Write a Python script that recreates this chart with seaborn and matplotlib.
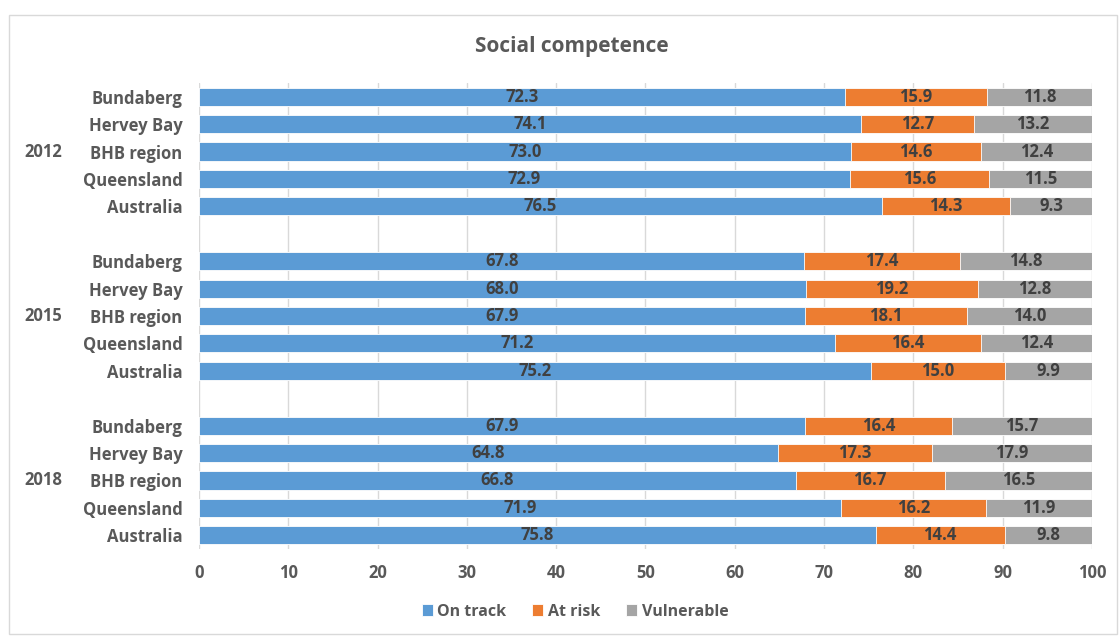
import matplotlib
matplotlib.use("Agg")
import matplotlib.pyplot as plt
import seaborn as sns
import pandas as pd
import numpy as np

# Survey years and areas
years = ["2012", "2015", "2018"]
areas = ["Bundaberg", "Hervey Bay", "BHB region", "Queensland", "Australia"]

# Percentage of children in each category, per year, per area
on_track = [
    [72.3, 74.1, 73.0, 72.9, 76.5],
    [67.8, 68.0, 67.9, 71.2, 75.2],
    [67.9, 64.8, 66.8, 71.9, 75.8],
]
at_risk = [
    [15.9, 12.7, 14.6, 15.6, 14.3],
    [17.4, 19.2, 18.1, 16.4, 15.0],
    [16.4, 17.3, 16.7, 16.2, 14.4],
]
vulnerable = [
    [11.8, 13.2, 12.4, 11.5, 9.3],
    [14.8, 12.8, 14.0, 12.4, 9.9],
    [15.7, 17.9, 16.5, 11.9, 9.8],
]

series_names = ["On track", "At risk", "Vulnerable"]
colors = ["#5B9BD5", "#ED7D31", "#A5A5A5"]
text_color = "#595959"
value_color = "#404040"

sns.set_theme(style="white")
plt.rcParams["font.family"] = ["Open Sans", "DejaVu Sans"]

# Long table: one row per bar, with a numeric slot leaving a gap between years
rows = []
for gi, yr in enumerate(years):
    for ai, area in enumerate(areas):
        rows.append({
            "year": yr, "area": area,
            "slot": gi * (len(areas) + 1) + ai,
            "On track": on_track[gi][ai],
            "At risk": at_risk[gi][ai],
            "Vulnerable": vulnerable[gi][ai],
        })
df = pd.DataFrame(rows)
df["cum1"] = df["On track"]
df["cum2"] = df["On track"] + df["At risk"]
df["cum3"] = df["cum2"] + df["Vulnerable"]

fig = plt.figure(figsize=(11.19, 6.37), dpi=100)
ax = fig.add_axes([0.1778, 0.1381, 0.7981, 0.7316])

# Stacked bars: draw the cumulative totals back to front
for col, color, name in zip(["cum3", "cum2", "cum1"], colors[::-1], series_names[::-1]):
    sns.barplot(data=df, x=col, y="slot", orient="y", native_scale=True,
                color=color, width=0.66, edgecolor="white", linewidth=0.6,
                saturation=1, ax=ax, label=name, zorder=3)

# Value labels centred in each segment
for _, r in df.iterrows():
    starts = [0, r["cum1"], r["cum2"]]
    vals = [r["On track"], r["At risk"], r["Vulnerable"]]
    for s, v in zip(starts, vals):
        ax.text(s + v / 2, r["slot"], f"{v:.1f}", ha="center", va="center",
                fontsize=12, fontweight="bold", color=value_color, zorder=5)

ax.set_xlim(0, 100)
ax.set_ylim(16.5, -0.5)
ax.set_xticks(np.arange(0, 101, 10))
ax.set_xticklabels([str(t) for t in range(0, 101, 10)], fontsize=12,
                   fontweight="bold", color=text_color)
ax.set_yticks(df["slot"])
ax.set_yticklabels(df["area"], fontsize=12, fontweight="bold", color=text_color)
ax.tick_params(axis="y", length=0, pad=12)
ax.tick_params(axis="x", length=0, pad=11)
ax.set_xlabel("")
ax.set_ylabel("")
ax.grid(axis="x", color="#D9D9D9", linewidth=1, zorder=0)
ax.set_axisbelow(True)
for sp in ax.spines.values():
    sp.set_visible(False)

# Year labels beside the middle bar of each group
for gi, yr in enumerate(years):
    mid = gi * (len(areas) + 1) + 2
    ax.text(-0.196, mid, yr, transform=ax.get_yaxis_transform(), ha="left",
            va="center", fontsize=12, fontweight="bold", color=text_color)

fig.suptitle("Social competence", x=0.511, y=0.943, fontsize=15,
             fontweight="bold", color=text_color)

# Legend in series order
handles, labels = ax.get_legend_handles_labels()
order = [labels.index(n) for n in series_names]
leg = fig.legend([handles[i] for i in order], [labels[i] for i in order],
                 loc="center", bbox_to_anchor=(0.514, 0.04), ncol=3,
                 frameon=False, handlelength=0.7, handleheight=0.7,
                 handletextpad=0.3, columnspacing=1.6,
                 prop={"size": 11.5, "weight": "bold"})
for t in leg.get_texts():
    t.set_color(text_color)
if ax.get_legend():
    ax.get_legend().remove()

# Light frame around the chart area
fig.patches.append(plt.Rectangle((0.008, 0.005), 0.99, 0.972,
                                 transform=fig.transFigure, fill=False,
                                 edgecolor="#D9D9D9", linewidth=1))

fig.savefig("out.png", dpi=100)
